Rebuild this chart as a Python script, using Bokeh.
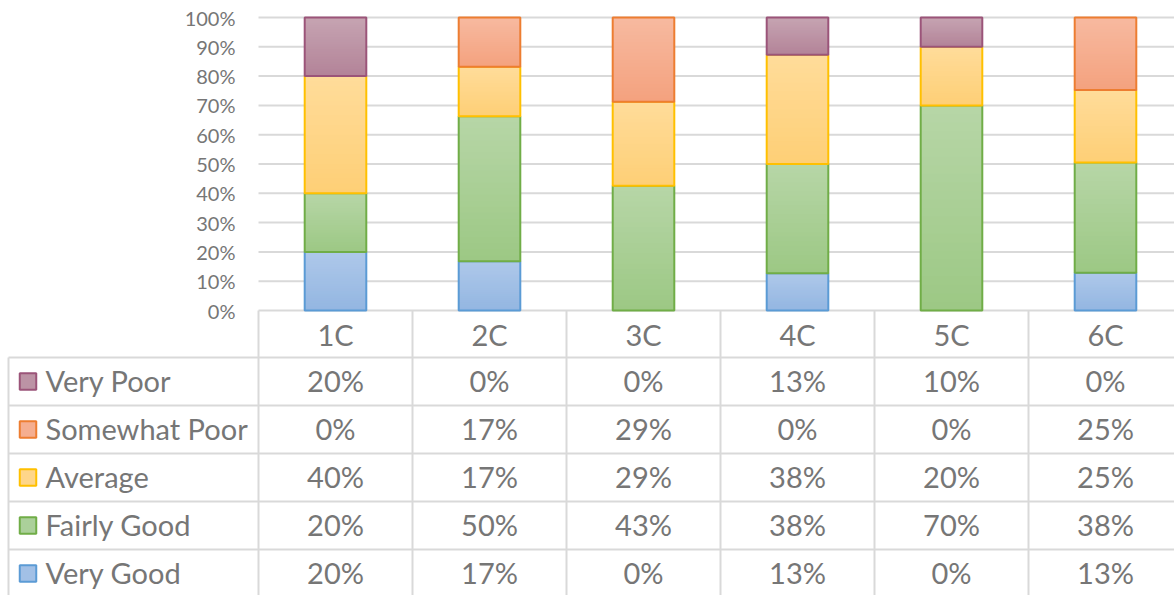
import numpy as np
from bokeh.plotting import figure
from bokeh.models import Range1d, ColumnDataSource
from bokeh.core.properties import value
from bokeh.embed import file_html
from bokeh.resources import INLINE

# ---- data -------------------------------------------------------------
categories = ["1C", "2C", "3C", "4C", "5C", "6C"]

# share of answers per rating (percent, as listed in the data table)
very_poor = [20, 0, 0, 13, 10, 0]
somewhat_poor = [0, 17, 29, 0, 0, 25]
average = [40, 17, 29, 38, 20, 25]
fairly_good = [20, 50, 43, 38, 70, 38]
very_good = [20, 17, 0, 13, 0, 13]

y_ticks = [0, 10, 20, 30, 40, 50, 60, 70, 80, 90, 100]
y_tick_labels = ["0%", "10%", "20%", "30%", "40%", "50%", "60%", "70%", "80%", "90%", "100%"]

# stacking order, bottom to top
series_names = ["Very Good", "Fairly Good", "Average", "Somewhat Poor", "Very Poor"]
series_values = [very_good, fairly_good, average, somewhat_poor, very_poor]
# gradient fill: light at the top of a segment, darker at its bottom
fill_top = ["#aec8ea", "#b7d6a7", "#ffdc9a", "#f7baa0", "#c6a4b2"]
fill_bottom = ["#93b6e1", "#9cc884", "#fecf76", "#f4a17e", "#b38398"]
fill_mid = ["#a2c0e6", "#abd09a", "#fed68a", "#f5ae90", "#bc93a5"]
edge_colors = ["#5b9bd5", "#70ad47", "#ffc000", "#ed7d31", "#9b5479"]

# ---- layout constants (pixels) ----------------------------------------
W, H = 1174, 595
PLOT_LEFT = 258          # left edge of the category columns
COL_W = 154              # width of one category column
AXIS_Y0 = 310            # pixel row of the 0% line
PX_PER_PCT = 2.93        # vertical scale
TOP_ROW = 357            # first data-table row
ROW_H = 48
BAR_W = 0.4
TEXT = "#767676"
GRID = "#d9d9d9"
FONT = "Lato"
TABLE_FS = "29px"


def mix(c1, c2, t):
    a = np.array([int(c1[i:i + 2], 16) for i in (1, 3, 5)], dtype=float)
    b = np.array([int(c2[i:i + 2], 16) for i in (1, 3, 5)], dtype=float)
    c = np.round(a + (b - a) * t).astype(int)
    return "#%02x%02x%02x" % tuple(c)


n = len(categories)
p = figure(
    width=W, height=H,
    x_range=Range1d(-PLOT_LEFT / COL_W, (W - PLOT_LEFT) / COL_W),
    y_range=Range1d(-(H - AXIS_Y0) / PX_PER_PCT, 100 + 17 / PX_PER_PCT),
    min_border=0, toolbar_location=None, output_backend="svg",
    x_axis_location=None, y_axis_location=None,
)
p.extra_x_ranges = {"px": Range1d(0, W)}
p.extra_y_ranges = {"rows": Range1d(H, 0)}
p.outline_line_color = None
p.xgrid.visible = False
p.ygrid.visible = False
p.background_fill_color = "white"
p.border_fill_color = "white"

# ---- horizontal gridlines + percent labels ----------------------------
p.segment(x0=[0] * len(y_ticks), x1=[n] * len(y_ticks), y0=y_ticks, y1=y_ticks,
          line_color=GRID, line_width=2)
p.text(x=[235] * len(y_ticks), y=y_ticks, text=y_tick_labels, x_range_name="px",
       text_align="right", text_baseline="middle", text_color=TEXT,
       text_font=value(FONT), text_font_size="20px")

# ---- 100% stacked columns ---------------------------------------------
vals = np.array(series_values, dtype=float)
share = vals / vals.sum(axis=0) * 100.0
tops = np.cumsum(share, axis=0)
bottoms = tops - share
xs = np.arange(n) + 0.5
N_STRIPS = 24
for k in range(len(series_names)):
    keep = vals[k] > 0
    # shaded fill: bands drawn top-down, each reaching the segment bottom,
    # so that every band overlaps the previous one and no seams show
    for s in range(N_STRIPS):
        band_top = tops[k][keep] - share[k][keep] * s / N_STRIPS
        p.quad(left=xs[keep] - BAR_W / 2, right=xs[keep] + BAR_W / 2,
               top=band_top, bottom=bottoms[k][keep],
               fill_color=mix(fill_top[k], fill_bottom[k], (s + 0.5) / N_STRIPS),
               line_color=None)
    src = ColumnDataSource(dict(x=xs[keep], bottom=bottoms[k][keep], top=tops[k][keep]))
    p.vbar(x="x", bottom="bottom", top="top", width=BAR_W, source=src,
           fill_color=None, line_color=edge_colors[k], line_width=2)

# ---- data table -------------------------------------------------------
n_rows = len(series_names)
row_lines = [TOP_ROW + ROW_H * r for r in range(n_rows + 1)]
p.segment(x0=[8] * len(row_lines), x1=[W] * len(row_lines), y0=row_lines, y1=row_lines,
          x_range_name="px", y_range_name="rows", line_color=GRID, line_width=2)
p.segment(x0=[8], x1=[8], y0=[TOP_ROW], y1=[H], x_range_name="px", y_range_name="rows",
          line_color=GRID, line_width=2)
col_edges = list(range(n + 1))
p.segment(x0=col_edges, x1=col_edges, y0=[AXIS_Y0] * len(col_edges), y1=[H] * len(col_edges),
          y_range_name="rows", line_color=GRID, line_width=2)

# header row: category names
p.text(x=xs, y=[(AXIS_Y0 + TOP_ROW) / 2] * n, text=categories, y_range_name="rows",
       text_align="center", text_baseline="middle", text_color=TEXT,
       text_font=value(FONT), text_font_size=TABLE_FS)

# table rows, top to bottom: reverse of the stacking order
for r, k in enumerate(reversed(range(len(series_names)))):
    yc = TOP_ROW + ROW_H * r + ROW_H / 2
    p.rect(x=[27.5], y=[yc], width=16.5, height=16.5, x_range_name="px", y_range_name="rows",
           fill_color=fill_mid[k], line_color=edge_colors[k], line_width=2)
    p.text(x=[45], y=[yc - 1], text=[series_names[k]], x_range_name="px", y_range_name="rows",
           text_align="left", text_baseline="middle", text_color=TEXT,
           text_font=value(FONT), text_font_size=TABLE_FS)
    p.text(x=xs, y=[yc - 1] * n, text=[f"{v}%" for v in series_values[k]], y_range_name="rows",
           text_align="center", text_baseline="middle", text_color=TEXT,
           text_font=value(FONT), text_font_size=TABLE_FS)

open("out.html", "w").write(file_html(p, INLINE))
